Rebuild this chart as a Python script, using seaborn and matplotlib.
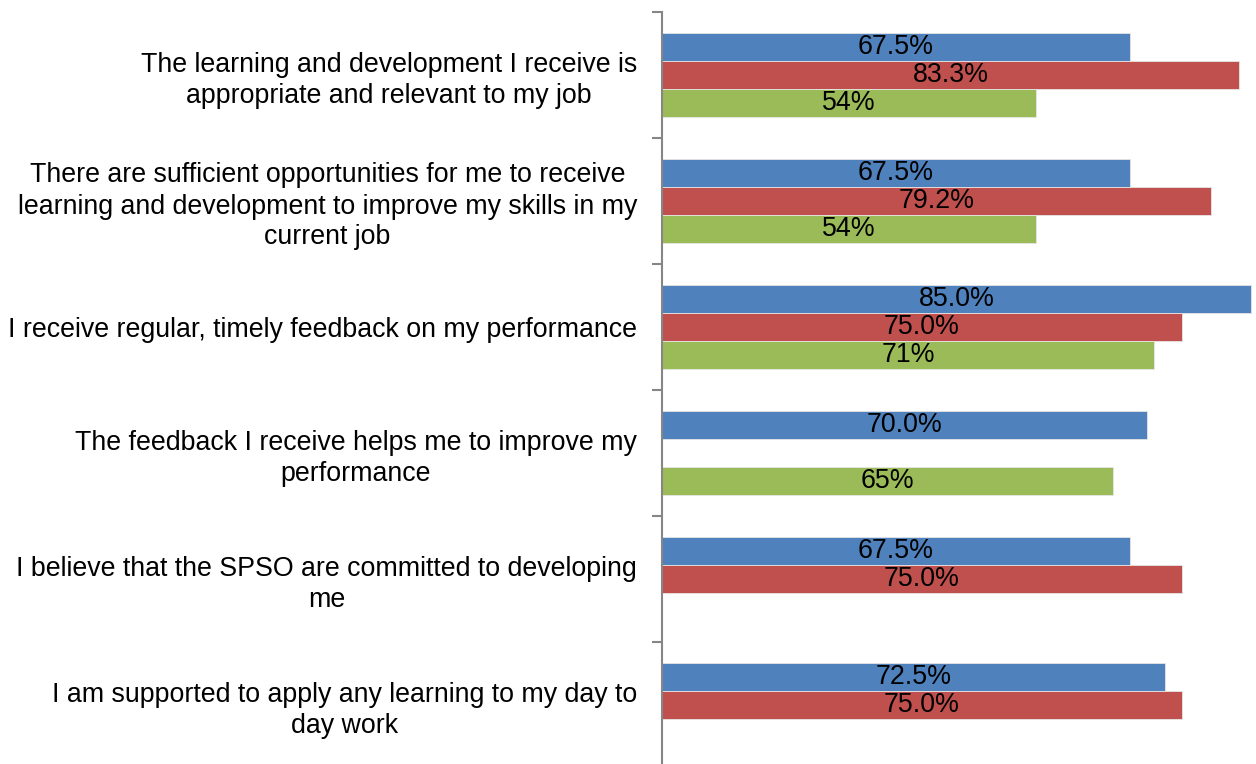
"""Learning and development survey results - grouped horizontal bars."""

import matplotlib

matplotlib.use("Agg")
import matplotlib.pyplot as plt
import numpy as np
import pandas as pd
import seaborn as sns

QUESTIONS = [
    "The learning and development I receive is\nappropriate and relevant to my job",
    "There are sufficient opportunities for me to receive\nlearning and development to improve my skills in my\ncurrent job",
    "I receive regular, timely feedback on my performance",
    "The feedback I receive helps me to improve my\nperformance",
    "I believe that the SPSO are committed to developing\nme",
    "I am supported to apply any learning to my day to\nday work",
]
SERIES = ["Series 1", "Series 2", "Series 3"]
BLUE_VALUES = [67.5, 67.5, 85.0, 70.0, 67.5, 72.5]
RED_VALUES = [83.3, 79.2, 75.0, np.nan, 75.0, 75.0]
GREEN_VALUES = [54, 54, 71, 65, np.nan, np.nan]
COLOURS = ["#4F81BD", "#C0504D", "#9BBB59"]
LABEL_FORMATS = ["{:.1f}%", "{:.1f}%", "{:.0f}%"]

rows = []
for name, values in zip(SERIES, (BLUE_VALUES, RED_VALUES, GREEN_VALUES)):
    for question, value in zip(QUESTIONS, values):
        if not np.isnan(value):
            rows.append({"question": question, "series": name, "value": value})
df = pd.DataFrame(rows)

sns.set_style("white")
plt.rcParams["font.family"] = ["Liberation Sans", "DejaVu Sans"]

fig = plt.figure(figsize=(12.56, 7.64), dpi=100)
ax = fig.add_axes([662 / 1256, -4 / 764, 594 / 1256, 756 / 764])

sns.barplot(
    data=df,
    x="value",
    y="question",
    hue="series",
    order=QUESTIONS,
    hue_order=SERIES,
    palette=COLOURS,
    orient="h",
    width=0.66,
    saturation=1,
    edgecolor="#e6e6e6",
    linewidth=0.6,
    legend=False,
    ax=ax,
)

for container, fmt in zip(ax.containers, LABEL_FORMATS):
    ax.bar_label(container, fmt=fmt, label_type="center", fontsize=19.3, color="black")

ax.set_xlim(0, 85.7)
ax.set_ylim(len(QUESTIONS) - 0.5, -0.5)
ax.set_xlabel("")
ax.set_ylabel("")
ax.set_xticks([])

ax.set_yticks(range(len(QUESTIONS)))
ax.set_yticklabels(QUESTIONS, fontsize=19.3, color="black", ha="right",
                   multialignment="center", linespacing=1.25)
ax.set_yticks(np.arange(-0.5, len(QUESTIONS), 1.0), minor=True)
ax.tick_params(axis="y", which="major", left=True, length=0, pad=18)
ax.tick_params(axis="y", which="minor", left=True, length=7, width=1.5,
               color="#868686", direction="out")

for side in ("top", "right", "bottom"):
    ax.spines[side].set_visible(False)
ax.spines["left"].set_color("#868686")
ax.spines["left"].set_linewidth(1.5)

fig.savefig("out.png", dpi=100)
